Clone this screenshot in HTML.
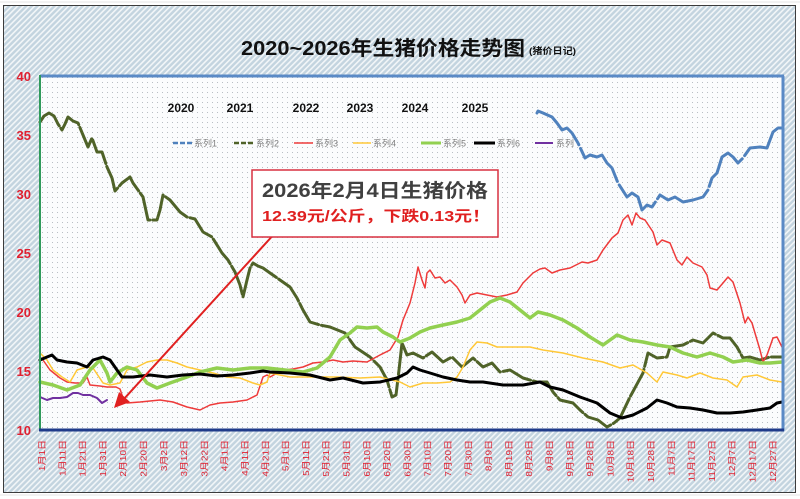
<!DOCTYPE html>
<html><head><meta charset="utf-8">
<style>
html,body{margin:0;padding:0;background:#fff;}
svg{display:block;}
text{font-family:"Liberation Sans","Noto Sans CJK SC",sans-serif;}
</style></head>
<body>
<svg width="800" height="499" viewBox="0 0 800 499" xmlns="http://www.w3.org/2000/svg">
<defs>
<pattern id="hatch" width="4" height="4" patternUnits="userSpaceOnUse" patternTransform="rotate(45)">
<rect width="4" height="4" fill="#c3d4df"/>
<rect width="1.6" height="4" fill="#f2f6f8"/>
</pattern>
<pattern id="dots" width="5" height="5" patternUnits="userSpaceOnUse">
<rect width="5" height="5" fill="#fbfcfd"/>
<rect x="2" y="2" width="1" height="1" fill="#b8bec4"/>
</pattern>
</defs>
<rect width="800" height="499" fill="#ffffff"/>
<line x1="0" y1="2" x2="800" y2="2" stroke="#e4e4e4"/>
<line x1="0" y1="495" x2="800" y2="495" stroke="#e4e4e4"/>
<rect x="3.5" y="5.5" width="792" height="487" fill="url(#hatch)" stroke="#3c3c3c" stroke-width="1"/>
<rect x="40" y="76" width="743" height="354" fill="url(#dots)"/>

<!-- title -->
<text x="241" y="55" font-size="20" font-weight="bold" fill="#111" textLength="284" lengthAdjust="spacingAndGlyphs">2020~2026年生猪价格走势图</text>
<text x="529" y="54" font-size="9" font-weight="bold" fill="#111" textLength="47" lengthAdjust="spacingAndGlyphs">(猪价日记)</text>

<!-- y labels -->
<g font-size="13" font-weight="bold" fill="#e02030" text-anchor="end">
<text x="31" y="81">40</text>
<text x="31" y="140">35</text>
<text x="31" y="199">30</text>
<text x="31" y="258">25</text>
<text x="31" y="317">20</text>
<text x="31" y="376">15</text>
<text x="31" y="435">10</text>
</g>

<!-- x labels -->
<g font-size="10" fill="#e02030" text-anchor="end">
<text transform="translate(42,440) rotate(-90) scale(1,0.85)" dy="0.35em">1月1日</text>
<text transform="translate(62.3,440) rotate(-90) scale(1,0.85)" dy="0.35em">1月11日</text>
<text transform="translate(82.6,440) rotate(-90) scale(1,0.85)" dy="0.35em">1月21日</text>
<text transform="translate(102.9,440) rotate(-90) scale(1,0.85)" dy="0.35em">1月31日</text>
<text transform="translate(123.2,440) rotate(-90) scale(1,0.85)" dy="0.35em">2月10日</text>
<text transform="translate(143.5,440) rotate(-90) scale(1,0.85)" dy="0.35em">2月20日</text>
<text transform="translate(163.8,440) rotate(-90) scale(1,0.85)" dy="0.35em">3月2日</text>
<text transform="translate(184.1,440) rotate(-90) scale(1,0.85)" dy="0.35em">3月12日</text>
<text transform="translate(204.4,440) rotate(-90) scale(1,0.85)" dy="0.35em">3月22日</text>
<text transform="translate(224.7,440) rotate(-90) scale(1,0.85)" dy="0.35em">4月1日</text>
<text transform="translate(245,440) rotate(-90) scale(1,0.85)" dy="0.35em">4月11日</text>
<text transform="translate(265.3,440) rotate(-90) scale(1,0.85)" dy="0.35em">4月21日</text>
<text transform="translate(285.6,440) rotate(-90) scale(1,0.85)" dy="0.35em">5月1日</text>
<text transform="translate(305.9,440) rotate(-90) scale(1,0.85)" dy="0.35em">5月11日</text>
<text transform="translate(326.2,440) rotate(-90) scale(1,0.85)" dy="0.35em">5月21日</text>
<text transform="translate(346.5,440) rotate(-90) scale(1,0.85)" dy="0.35em">5月31日</text>
<text transform="translate(366.8,440) rotate(-90) scale(1,0.85)" dy="0.35em">6月10日</text>
<text transform="translate(387.1,440) rotate(-90) scale(1,0.85)" dy="0.35em">6月20日</text>
<text transform="translate(407.4,440) rotate(-90) scale(1,0.85)" dy="0.35em">6月30日</text>
<text transform="translate(427.7,440) rotate(-90) scale(1,0.85)" dy="0.35em">7月10日</text>
<text transform="translate(448,440) rotate(-90) scale(1,0.85)" dy="0.35em">7月20日</text>
<text transform="translate(468.3,440) rotate(-90) scale(1,0.85)" dy="0.35em">7月30日</text>
<text transform="translate(488.6,440) rotate(-90) scale(1,0.85)" dy="0.35em">8月9日</text>
<text transform="translate(508.9,440) rotate(-90) scale(1,0.85)" dy="0.35em">8月19日</text>
<text transform="translate(529.2,440) rotate(-90) scale(1,0.85)" dy="0.35em">8月29日</text>
<text transform="translate(549.5,440) rotate(-90) scale(1,0.85)" dy="0.35em">9月8日</text>
<text transform="translate(569.8,440) rotate(-90) scale(1,0.85)" dy="0.35em">9月18日</text>
<text transform="translate(590.1,440) rotate(-90) scale(1,0.85)" dy="0.35em">9月28日</text>
<text transform="translate(610.4,440) rotate(-90) scale(1,0.85)" dy="0.35em">10月8日</text>
<text transform="translate(630.7,440) rotate(-90) scale(1,0.85)" dy="0.35em">10月18日</text>
<text transform="translate(651,440) rotate(-90) scale(1,0.85)" dy="0.35em">10月28日</text>
<text transform="translate(671.3,440) rotate(-90) scale(1,0.85)" dy="0.35em">11月7日</text>
<text transform="translate(691.6,440) rotate(-90) scale(1,0.85)" dy="0.35em">11月17日</text>
<text transform="translate(711.9,440) rotate(-90) scale(1,0.85)" dy="0.35em">11月27日</text>
<text transform="translate(732.2,440) rotate(-90) scale(1,0.85)" dy="0.35em">12月7日</text>
<text transform="translate(752.5,440) rotate(-90) scale(1,0.85)" dy="0.35em">12月17日</text>
<text transform="translate(772.8,440) rotate(-90) scale(1,0.85)" dy="0.35em">12月27日</text>
</g>

<!-- legend years -->
<g font-size="12" font-weight="bold" fill="#111" text-anchor="middle">
<text x="181" y="112">2020</text>
<text x="240" y="112">2021</text>
<text x="306" y="112">2022</text>
<text x="360" y="112">2023</text>
<text x="415" y="112">2024</text>
<text x="475" y="112">2025</text>
</g>

<!-- legend series -->
<g font-size="9" fill="#7f7f7f">
<line x1="173" y1="143" x2="192" y2="143" stroke="#4f81bd" stroke-width="2.5" stroke-dasharray="5 2"/>
<text x="194" y="146.5">系列1</text>
<line x1="234" y1="143" x2="254" y2="143" stroke="#4f6228" stroke-width="2.5" stroke-dasharray="5 2"/>
<text x="256" y="146.5">系列2</text>
<line x1="294" y1="143" x2="313" y2="143" stroke="#ee3b3b" stroke-width="1.5"/>
<text x="315" y="146.5">系列3</text>
<line x1="353" y1="143" x2="371" y2="143" stroke="#ffc838" stroke-width="1.5"/>
<text x="373" y="146.5">系列4</text>
<line x1="421" y1="143" x2="441" y2="143" stroke="#92d050" stroke-width="3"/>
<text x="443" y="146.5">系列5</text>
<line x1="474" y1="143" x2="495" y2="143" stroke="#000" stroke-width="3"/>
<text x="497" y="146.5">系列6</text>
<line x1="535" y1="143" x2="553" y2="143" stroke="#7030a0" stroke-width="2"/>
<text x="556" y="146.5">系列</text>
</g>

<g fill="none" stroke-linejoin="round" stroke-linecap="round">
<!-- series 1 blue -->
<polyline stroke="#4f81bd" stroke-width="3" stroke-dasharray="60 4" points="537,113 538,111 543,113 552,117 557,123 562,130 567,128 572,133 578,143 585,158 590,155 597,157 602,155 607,163 612,168 618,183 627,197 632,193 638,197 642,210 647,205 652,207 660,195 668,200 675,197 683,202 693,200 703,197 708,190 712,178 717,173 722,157 728,153 733,157 738,163 743,158 750,148 760,147 767,148 773,132 778,128 783,128"/>
<!-- series 2 olive -->
<polyline stroke="#4f6228" stroke-width="3" stroke-dasharray="30 3" points="40,122 44,116 49,113 54,116 58,124 62,130 65,124 68,117 73,121 78,123 83,135 88,147 92,138 97,152 102,152 107,167 112,178 115,191 122,183 130,177 133,183 138,190 143,197 148,220 157,220 160,210 163,195 170,200 180,212 187,217 195,219 203,232 212,237 222,253 228,260 235,272 240,285 243,297 247,280 250,268 253,263 258,266 263,268 270,273 280,280 290,287 297,298 303,310 310,322 320,325 330,327 345,333 355,347 370,357 380,367 387,380 392,397 396,395 399,370 402,343 407,355 413,353 423,358 432,352 443,362 452,357 462,367 473,358 483,367 492,363 500,372 510,370 523,378 537,382 547,382 553,392 560,400 573,403 580,410 588,417 598,420 607,427 614,423 620,418 630,397 643,373 648,353 657,358 667,357 670,347 683,345 693,340 703,343 713,333 723,338 730,338 737,347 743,358 750,357 760,360 770,357 782,357"/>
<!-- series 3 red -->
<polyline stroke="#ee3b3b" stroke-width="1.5" points="40,357 43,360 50,370 60,378 67,382 75,383 83,383 87,377 90,385 100,386 107,387 116,387 120,389 123,398 127,403 140,402 150,401 160,400 173,402 187,407 200,410 210,405 220,403 233,402 247,400 257,395 263,377 267,375 270,377 283,370 293,369 303,367 313,363 323,362 333,360 343,362 353,361 367,362 380,355 390,350 398,337 403,320 410,303 415,283 418,267 422,280 425,288 427,273 430,270 435,278 440,277 445,283 450,280 457,287 462,295 465,303 470,295 477,293 487,295 497,297 507,295 517,292 523,283 533,273 540,269 545,268 552,273 560,270 570,268 582,262 588,263 597,260 603,250 612,238 618,233 623,220 628,215 632,225 636,213 640,218 645,220 653,232 657,245 662,240 670,243 677,260 682,265 687,257 693,263 702,267 707,275 710,288 717,290 723,283 728,277 733,282 740,303 745,323 748,317 752,323 760,350 763,362 767,355 773,338 777,337 782,347"/>
<!-- series 4 yellow -->
<polyline stroke="#ffc838" stroke-width="1.5" points="40,353 47,360 53,370 62,377 70,382 77,370 87,367 93,368 103,383 110,385 120,383 127,370 137,367 147,362 157,360 167,360 177,363 187,367 200,370 213,373 227,377 240,378 253,383 260,385 267,382 270,373 290,377 310,377 337,377 360,378 380,377 400,382 410,387 423,383 437,383 450,382 457,377 463,367 470,350 477,342 487,343 497,347 510,347 530,347 543,350 563,353 583,358 603,362 620,368 633,365 647,373 657,382 663,372 677,375 687,378 700,373 713,378 727,380 737,387 743,377 757,375 770,380 782,382"/>
<!-- series 5 green -->
<polyline stroke="#92d050" stroke-width="3.5" points="40,382 53,385 67,390 80,385 90,370 100,360 107,373 110,382 117,373 127,367 137,370 147,383 157,388 170,383 187,377 200,372 217,368 233,370 250,368 267,368 285,370 303,372 317,368 330,357 340,340 350,333 357,327 367,328 377,327 383,332 393,337 400,342 410,338 420,332 430,328 443,325 457,322 470,318 480,310 490,302 500,298 510,302 520,310 530,318 538,312 550,315 563,320 577,328 590,337 603,345 617,335 630,340 643,342 657,345 670,347 683,353 697,357 710,353 723,357 733,362 747,360 760,363 770,363 782,362"/>
<!-- series 6 black -->
<polyline stroke="#000" stroke-width="3" points="40,360 47,357 52,355 57,360 67,362 77,363 87,367 93,360 103,357 110,360 117,370 122,377 133,377 150,375 167,377 183,375 200,374 217,376 233,375 250,373 263,371 270,372 290,373 310,375 330,380 343,378 363,383 380,382 397,378 407,373 413,367 420,370 430,373 443,377 457,380 470,382 483,382 503,385 523,385 540,382 550,387 563,390 580,397 597,403 610,413 622,418 633,415 647,408 657,400 667,403 677,407 690,408 703,410 717,413 730,413 743,412 757,410 770,408 777,403 782,402"/>
<!-- series 7 purple -->
<polyline stroke="#7030a0" stroke-width="2" points="40,397 47,400 53,398 60,398 67,397 73,393 78,393 83,395 90,395 97,398 102,403 107,400"/>
</g>

<!-- plot borders -->
<line x1="40" y1="76" x2="784" y2="76" stroke="#5a8ac6" stroke-width="3"/>
<line x1="783" y1="76" x2="783" y2="431" stroke="#5a8ac6" stroke-width="3"/>
<line x1="40" y1="75" x2="40" y2="431" stroke="#2f9a5a" stroke-width="2"/>
<line x1="39" y1="430" x2="784" y2="430" stroke="#1f3b8a" stroke-width="3"/>

<!-- annotation -->
<line x1="276" y1="232" x2="123" y2="400" stroke="#e02020" stroke-width="2"/>
<polygon points="114,408 119,392 130,402" fill="#e02020"/>
<rect x="252" y="170" width="246" height="67" fill="#ffffff" stroke="#d83040" stroke-width="1.5"/>
<text x="262" y="197" font-size="19" font-weight="bold" fill="#404040" textLength="226" lengthAdjust="spacingAndGlyphs">2026年2月4日生猪价格</text>
<text x="262" y="221" font-size="15" font-weight="bold" fill="#e02020" textLength="228" lengthAdjust="spacingAndGlyphs">12.39元/公斤，下跌0.13元！</text>
</svg>
</body></html>
